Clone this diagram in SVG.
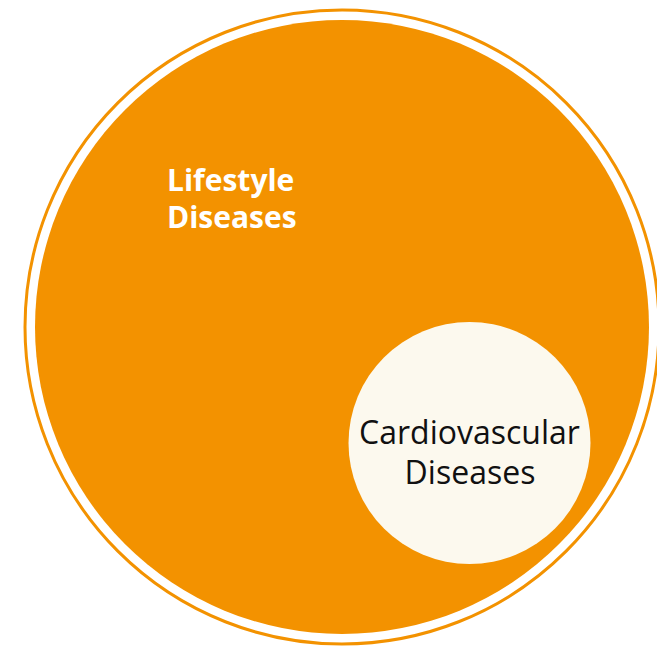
<svg xmlns="http://www.w3.org/2000/svg" width="657" height="648" viewBox="0 0 657 648">
  <style>
    .orange { fill: #F39200; }
    .ring { fill: none; stroke: #F39200; stroke-width: 3; }
    .inner { fill: #FCF9EE; }
    .lbl { font-family: "Open Sans", "Liberation Sans", sans-serif; }
    .white { fill: #FFFFFF; font-weight: bold; font-size: 30px; }
    .dark { fill: #111111; font-size: 32px; text-anchor: middle; }
  </style>
  <rect width="657" height="648" fill="#FFFFFF"/>
  <g id="lifestyle">
    <circle class="ring" cx="342" cy="327" r="317"/>
    <circle class="orange" cx="342" cy="327" r="307"/>
    <text class="lbl white" x="167" y="191">Lifestyle</text>
    <text class="lbl white" x="167" y="228">Diseases</text>
  </g>
  <g id="cardiovascular">
    <circle class="inner" cx="469.5" cy="443" r="121"/>
    <text class="lbl dark" x="469.5" y="444">Cardiovascular</text>
    <text class="lbl dark" x="470" y="484">Diseases</text>
  </g>
  <g id="connectors"></g>
</svg>
